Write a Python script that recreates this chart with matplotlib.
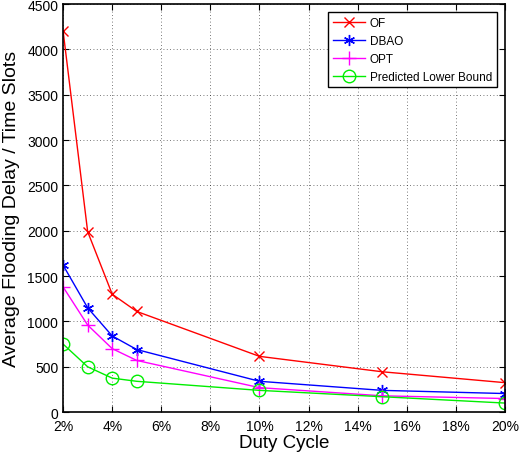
import matplotlib
matplotlib.use("Agg")
import matplotlib.pyplot as plt

# Datos
duty = [2, 3, 4, 5, 10, 15, 20]
of_delay = [4200, 1990, 1300, 1110, 615, 445, 325]
dbao_delay = [1620, 1150, 840, 690, 340, 240, 205]
opt_delay = [1380, 960, 700, 570, 270, 180, 150]
lb_delay = [750, 500, 375, 340, 240, 170, 100]

xticks = [2, 4, 6, 8, 10, 12, 14, 16, 18, 20]
xlabels = [f"{t}%" for t in xticks]
yticks = list(range(0, 4501, 500))

plt.rcParams['font.family'] = ['Liberation Sans', 'DejaVu Sans']

fig = plt.figure(figsize=(5.26, 4.56), dpi=100)
ax = fig.add_axes([0.12, 0.094, 0.84, 0.895])

ax.plot(duty, of_delay, color='red', marker='x', markersize=7, linewidth=1, label='OF')
ax.plot(duty, dbao_delay, color='blue', marker=(6, 2, 0), markersize=8, linewidth=1, label='DBAO')
ax.plot(duty, opt_delay, color='magenta', marker='+', markersize=10, linewidth=1, label='OPT')
ax.plot(duty, lb_delay, color='#00ee00', marker='o', markersize=9, markerfacecolor='none',
        linewidth=1, label='Predicted Lower Bound')

ax.set_xlim(2, 20)
ax.set_ylim(0, 4500)
ax.set_xticks(xticks)
ax.set_xticklabels(xlabels)
ax.set_yticks(yticks)
ax.tick_params(direction='in', top=True, right=True, labelsize=10, length=4)
ax.tick_params(axis='x', pad=5)
ax.grid(True, linestyle=(0, (1, 3)), color='black', linewidth=0.6, alpha=0.7)
for s in ax.spines.values():
    s.set_linewidth(1.2)

ax.set_xlabel('Duty Cycle', fontsize=13.5, labelpad=1)
ax.set_ylabel('Average Flooding Delay / Time Slots', fontsize=14, labelpad=5)

leg = ax.legend(loc='upper right', fontsize=8.5, fancybox=False, framealpha=1,
                edgecolor='black', borderaxespad=0.7, handlelength=2.7,
                handletextpad=0.4, labelspacing=0.5, borderpad=0.4)
leg.get_frame().set_linewidth(1.0)

fig.savefig('out.png', dpi=100)
